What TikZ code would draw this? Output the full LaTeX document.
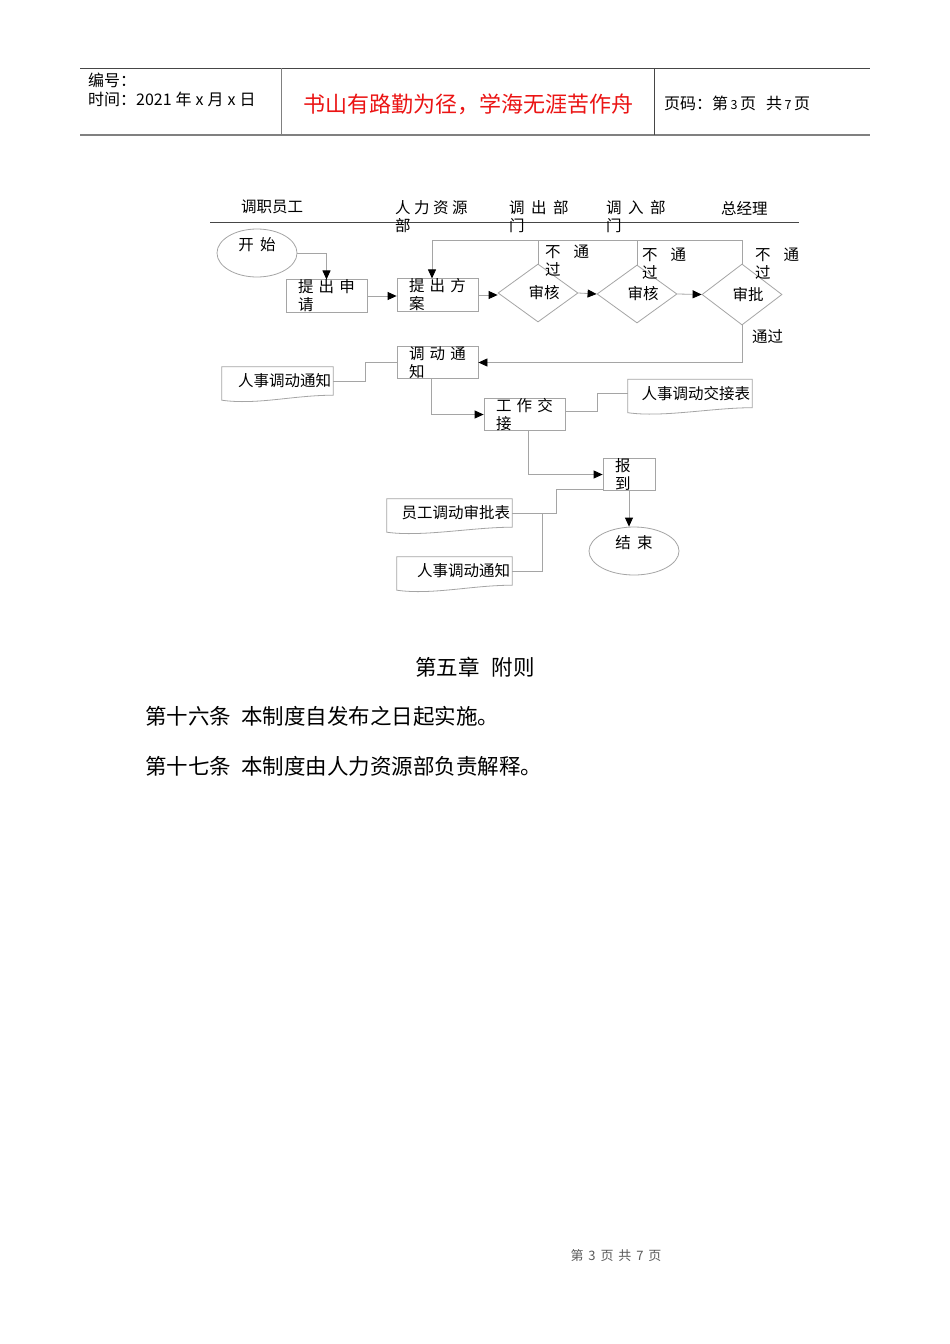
\documentclass[tikz,border=0pt]{standalone}
\usepackage{fontspec}
\setmainfont{Noto Sans CJK SC}
\usepackage{tikz}
\usetikzlibrary{arrows.meta}
\usetikzlibrary{shapes.geometric}
\usetikzlibrary{positioning}
\definecolor{boxgray}{RGB}{165,165,165}
\definecolor{rulegray}{RGB}{70,70,70}
\definecolor{headred}{RGB}{235,20,20}
\definecolor{footgray}{RGB}{90,90,90}
\newcommand*\lbl{\fontsize{15.5pt}{18pt}\selectfont}
\newcommand*\hdr{\fontsize{16pt}{19pt}\selectfont}
\newcommand*\bodytxt{\fontsize{21.5pt}{24pt}\selectfont}
\newcommand*\dg[1]{\hspace{2.5pt}{\fontsize{12.5pt}{12pt}\selectfont #1}\hspace{2.5pt}}
\tikzset{
    rule/.style = {draw=rulegray,line width=1pt},
    link/.style = {draw=boxgray,line width=0.8pt},
    flow/.style = {link,-{Triangle[length=9pt,width=8pt,color=black]}},
    stepbox/.style = {draw=boxgray,line width=0.8pt,rectangle,minimum height=32pt,text width=57pt,inner xsep=12pt,inner ysep=0pt,align=left,font=\lbl},
    decide/.style = {draw=boxgray,line width=0.8pt,diamond,minimum width=80pt,minimum height=58pt,inner sep=0pt,font=\lbl},
    terminal/.style = {draw=boxgray,line width=0.8pt,ellipse,inner sep=0pt,text height=12pt,text depth=18pt,font=\lbl},
    docnote/.style = {rectangle,inner xsep=2pt,inner ysep=0pt,minimum height=28pt,align=right,font=\lbl},
    note/.style = {anchor=north west,inner sep=0pt,align=left,font=\lbl}
}
% outline of a document node, wavy bottom
\newcommand*\docshape[1]{%
    \draw[link] (#1.north west) -- (#1.north east) -- (#1.south east)
        .. controls +(-40,0) and +(35,5) .. ([yshift=-5pt]#1.south west) -- cycle;
}

\begin{document}
\begin{tikzpicture}[x=1pt,y=-1pt]
    \fill[white] (0,0) rectangle (950,1344);
    \useasboundingbox (0,0) rectangle (950,1344);
    % Page header
    \draw[rule] (80,68) -- (870,68);
    \draw[draw=gray,line width=2pt] (80,135) -- (870,135);
    \draw[draw=gray,line width=1pt] (281,68) -- (281,135);
    \draw[rule] (654,68) -- (654,135);
    \node[anchor=west,inner sep=0pt,font=\hdr] (serial) at (88,80) {编号：};
    \node[anchor=west,inner sep=0pt,font=\hdr] (date) at (88,99) {时间：2021\hspace{4pt}年\hspace{4pt}x\hspace{4pt}月\hspace{4pt}x\hspace{4pt}日};
    \node[inner sep=0pt,text=headred,font=\fontsize{22pt}{24pt}\selectfont] (motto) at (468,104) {书山有路勤为径，学海无涯苦作舟};
    \node[anchor=west,inner sep=0pt,font=\hdr] (pageno) at (664,103) {页码：第\dg{3}页\hspace{10pt}共\dg{7}页};
    % Lanes
    \draw[rule] (210,222) -- (799,222);
    \node[note] (staff) at (241,200) {调职员工};
    \node[note] (hr) at (395,200) {人 力 资 源\\部};
    \node[note] (outdept) at (509,200) {调 \hspace{3pt}出 \hspace{3pt}部\\门};
    \node[note] (indept) at (606,200) {调 \hspace{3pt}入 \hspace{3pt}部\\门};
    \node[note] (gm) at (721,201) {总经理};
    % Steps
    \node[terminal,minimum width=80pt,minimum height=48pt] (start) at (257,253) {开 \hspace{3pt}始};
    \node[stepbox] (apply) at (326.5,296) {提 出 申\\请};
    \node[stepbox] (plan) at (437.5,295) {提 出 方\\案};
    \node[decide] (d1) at (538,293) {\hspace*{12pt}审核};
    \node[decide] (d2) at (637,294) {\hspace*{12pt}审核};
    \node[decide,minimum height=61pt] (d3) at (742,294.5) {\hspace*{12pt}审批};
    \node[stepbox] (notice) at (437.5,362.5) {调 动 通\\知};
    \node[stepbox] (handover) at (524.5,414.5) {工 作 交\\接};
    \node[stepbox,text width=28pt,minimum width=52pt] (report) at (629,474.5) {报\\到};
    \node[terminal,minimum width=90pt,minimum height=48pt] (finish) at (634,551) {结 \hspace{3pt}束};
    % Documents
    \node[docnote,text width=107pt] (memo) at (277.5,381) {人事调动通知};
    \node[docnote,text width=120pt] (xfer) at (690,393.5) {人事调动交接表};
    \node[docnote,text width=121pt] (form) at (449.5,513) {员工调动审批表};
    \node[docnote,text width=111pt] (memob) at (454.5,571) {人事调动通知};
    \foreach \d in {memo,xfer,form,memob}
        {\docshape{\d}}
    % Decision labels
    \node[note] (no1) at (545,245) {不\hspace{13pt}通\\过};
    \node[note] (no2) at (642,248) {不\hspace{13pt}通\\过};
    \node[note] (no3) at (755,248) {不\hspace{13pt}通\\过};
    \node[note] (yes) at (752,329) {通过};
    % Flow
    \draw[flow] (start.east) -| (apply.north);
    \draw[flow] (apply.east) -- (apply.east -| plan.west);
    \draw[flow] (plan.east) -- (plan.east -| d1.west);
    \draw[flow] (d1.east) -- (d2.west);
    \draw[flow] (d2.east) -- (d3.west);
    % Rejections back to hr
    \coordinate (back) at (432,240);
    \draw[link] (d3.north) |- (back);
    \draw[flow] (back) -- (back |- plan.north);
    \foreach \d in {d1,d2}
        \draw[link] (\d.north) -- (\d.north |- back);
    % Approval and after
    \draw[flow] (d3.south) |- (notice.east);
    \draw[link] (memo.east) -- ++(32,0) |- (notice.west);
    \draw[flow] ([xshift=-6pt]notice.south) |- (handover.west);
    \draw[link] ([yshift=3pt]handover.east) -- ++(32,0) |- (xfer.west);
    \draw[flow] ([xshift=4pt]handover.south) |- (report.west);
    \draw[flow] (report.south) -- (report.south |- finish.north);
    \draw[link] ([yshift=2pt]report.south west) -- ++(-46,0) |- (form.east);
    \coordinate (join) at ([xshift=30pt]form.east);
    \draw[link] (join) |- (memob.east);
    % Text below
    \node[inner sep=0pt,font=\bodytxt] (chapter) at (475,667) {第五章\hspace{12pt}附则};
    \node[anchor=west,inner sep=0pt,font=\bodytxt] (art16) at (145,716) {第十六条\hspace{10pt}本制度自发布之日起实施。};
    \node[anchor=west,inner sep=0pt,font=\bodytxt] (art17) at (145,766) {第十七条\hspace{10pt}本制度由人力资源部负责解释。};
    % Footer
    \node[inner sep=0pt,text=footgray,font=\fontsize{13pt}{15pt}\selectfont] (footer) at (616,1256) {第 \hspace{2pt}3 \hspace{2pt}页 \hspace{2pt}共 \hspace{2pt}7 \hspace{2pt}页};
\end{tikzpicture}
\end{document}
